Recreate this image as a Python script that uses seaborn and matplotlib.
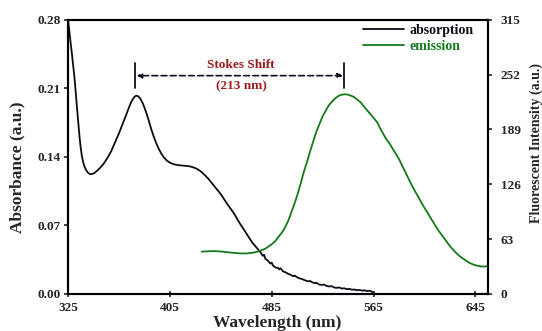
import pandas as pd
import seaborn as sns
import matplotlib.pyplot as plt

# absorption spectrum (left axis)
abs_wl = [325, 326, 327, 328, 329, 330, 331, 332, 333, 334, 335, 336, 337, 338, 339, 340,
          341, 342, 344, 346, 348, 350, 353, 356, 359, 362, 365, 368, 371, 373, 375, 377,
          378, 379, 380, 381, 382, 384, 386, 388, 390, 392, 394, 396, 398, 400, 402, 404,
          406, 408, 412, 416, 420, 423, 426, 429, 432, 435, 440, 445, 450, 455, 460, 465,
          470, 472, 474, 476, 478, 479, 480, 482, 484, 485, 486, 488, 490, 491, 492, 494,
          496, 498, 500, 502, 503, 505, 507, 509, 510, 512, 514, 515, 517, 519, 520, 522,
          524, 526, 528, 530, 532, 534, 536, 538, 540, 542, 544, 546, 548, 550, 552, 554,
          556, 558, 560, 562, 563.5, 564.5, 565]
abs_val = [0.280, 0.269, 0.257, 0.246, 0.234, 0.222, 0.207, 0.191, 0.176, 0.161, 0.149,
           0.140, 0.134, 0.130, 0.127, 0.125, 0.1235, 0.1225, 0.1225, 0.1238, 0.126, 0.1285,
           0.133, 0.139, 0.146, 0.155, 0.164, 0.174, 0.184, 0.191, 0.197, 0.2010, 0.2022,
           0.2025, 0.2020, 0.2008, 0.1990, 0.194, 0.187, 0.179, 0.170, 0.162, 0.155, 0.149,
           0.144, 0.140, 0.137, 0.135, 0.1335, 0.1325, 0.1315, 0.131, 0.1305, 0.1295, 0.128,
           0.1255, 0.122, 0.118, 0.110, 0.102, 0.092, 0.083, 0.072, 0.062, 0.052, 0.049,
           0.046, 0.043, 0.039, 0.040, 0.036, 0.034, 0.031, 0.032, 0.029, 0.027, 0.0265,
           0.025, 0.0262, 0.023, 0.022, 0.0205, 0.0195, 0.018, 0.0188, 0.017, 0.0158, 0.0152,
           0.0145, 0.0135, 0.0128, 0.0133, 0.0118, 0.011, 0.0115, 0.0098, 0.0092, 0.0096,
           0.0082, 0.0076, 0.008, 0.0066, 0.0062, 0.0066, 0.0055, 0.0058, 0.0048, 0.0052,
           0.0043, 0.0045, 0.0038, 0.0041, 0.0034, 0.0036, 0.003, 0.0033, 0.0025, 0.0012, 0.0]

# emission spectrum (right axis)
em_wl = [430, 435, 440, 445, 450, 455, 460, 465, 470, 475, 480, 485, 488, 490, 493, 495,
         498, 500, 503, 505, 508, 510, 513, 515, 518, 520, 523, 525, 528, 530, 533, 535,
         538, 540, 543, 545, 548, 550, 553, 555, 558, 560, 563, 565, 568, 570, 573, 575,
         578, 580, 583, 585, 588, 590, 593, 595, 598, 600, 603, 605, 608, 610, 613, 615,
         618, 620, 623, 625, 628, 630, 633, 635, 638, 640, 643, 645, 648, 650, 653, 655]
em_val = [48.6, 49.0, 49.2, 48.8, 48.0, 47.2, 46.6, 46.5, 47.3, 49.0, 52.0, 57.0, 61, 65,
          70.5, 75, 84, 92, 104, 113, 128, 139, 153, 163, 177, 186, 197, 204, 212, 217,
          222, 225, 228, 229, 229.5, 229, 227.5, 226, 222.5, 220, 214.5, 211, 206, 202.5,
          197, 191, 183, 178, 172, 167, 160, 155, 146, 140, 131, 125, 117, 112, 104, 99,
          92, 87, 80, 75, 69, 65, 59, 55, 50, 47, 43, 41, 38, 36, 34, 33, 32, 31.5, 31.5, 32.5]

x_ticks = [325, 405, 485, 565, 645]
left_ticks = [0.00, 0.07, 0.14, 0.21, 0.28]
right_ticks = [0, 63, 126, 189, 252, 315]

absorb = pd.DataFrame({'wl': abs_wl, 'val': abs_val})
emit = pd.DataFrame({'wl': em_wl, 'val': em_val})

sns.set_style('ticks')
plt.rcParams['font.family'] = ['Liberation Serif', 'DejaVu Serif']
plt.rcParams['font.weight'] = 'bold'

fig = plt.figure(figsize=(5.42, 3.31), dpi=100)
ax = fig.add_axes([0.1255, 0.112, 0.775, 0.828])
ax2 = ax.twinx()

black = '#0d0d1a'
green = '#16791a'
red = '#9b1b1b'

sns.lineplot(x='wl', y='val', data=absorb, ax=ax, color=black, lw=1.3, label='absorption', legend=False)
sns.lineplot(x='wl', y='val', data=emit, ax=ax2, color=green, lw=1.3, label='emission', legend=False)

ax.set_xlim(325, 655)
ax.set_ylim(0, 0.28)
ax2.set_ylim(0, 315)
ax.set_xticks(x_ticks)
ax.set_yticks(left_ticks)
ax.set_yticklabels([f'{v:.2f}' for v in left_ticks])
ax2.set_yticks(right_ticks)

ax.set_xlabel('Wavelength (nm)', fontsize=12.5, fontweight='bold')
ax.set_ylabel('Absorbance (a.u.)', fontsize=12.5, fontweight='bold')
ax2.set_ylabel('Fluorescent Intensity (a.u.)', fontsize=10, fontweight='bold')
ax.xaxis.set_label_coords(0.498, -0.077)
ax.yaxis.set_label_coords(-0.102, 0.464)
ax2.yaxis.set_label_coords(1.098, 0.551)

for a in (ax, ax2):
    for s in a.spines.values():
        s.set_linewidth(1.5)
        s.set_color('black')
    a.tick_params(labelsize=9.5, width=1.2, length=3)
ax.tick_params(axis='x', direction='inout', length=5)
ax.tick_params(axis='y', pad=2)
ax2.tick_params(axis='y', pad=6)

# Stokes shift annotation
ax.plot([378, 378], [0.2105, 0.236], color=black, lw=1.3)
ax.plot([542, 542], [0.2105, 0.236], color=black, lw=1.3)
ax.annotate('', xy=(379, 0.223), xytext=(541, 0.223),
            arrowprops=dict(arrowstyle='<|-|>', linestyle=(0, (3.5, 2)), color=black, lw=1.2,
                            mutation_scale=7, shrinkA=0, shrinkB=0))
ax.text(461, 0.2335, 'Stokes Shift', color=red, fontsize=9.5, fontweight='bold', ha='center', va='center')
ax.text(461, 0.2125, '(213 nm)', color=red, fontsize=9.5, fontweight='bold', ha='center', va='center')

h1, l1 = ax.get_legend_handles_labels()
h2, l2 = ax2.get_legend_handles_labels()
leg = ax2.legend(h1 + h2, l1 + l2, loc='upper left', frameon=False, fontsize=10,
                 handlelength=2.95, handletextpad=0.36, borderpad=0, borderaxespad=0,
                 labelspacing=0.22, bbox_to_anchor=(0.703, 0.985))
for t, c in zip(leg.get_texts(), [black, green]):
    t.set_color(c)

plt.savefig('out.png', dpi=100)
